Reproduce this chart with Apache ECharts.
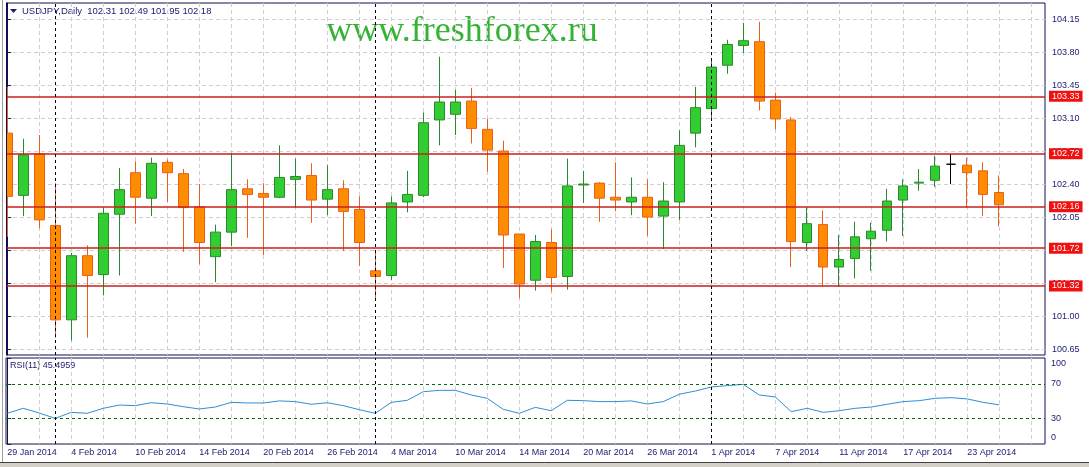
<!DOCTYPE html>
<html><head><meta charset="utf-8">
<script src="https://cdn.jsdelivr.net/npm/echarts@6/dist/echarts.min.js"></script>
<style>html,body{margin:0;padding:0;background:#fff;}#c{width:1089px;height:467px;}</style>
</head><body><div id="c"></div>
<script>
const dates = ['29 Jan 2014','30 Jan 2014','31 Jan 2014',
 '3 Feb 2014','4 Feb 2014','5 Feb 2014','6 Feb 2014','7 Feb 2014','10 Feb 2014','11 Feb 2014','12 Feb 2014','13 Feb 2014','14 Feb 2014',
 '17 Feb 2014','18 Feb 2014','19 Feb 2014','20 Feb 2014','21 Feb 2014','24 Feb 2014','25 Feb 2014','26 Feb 2014','27 Feb 2014','28 Feb 2014',
 '3 Mar 2014','4 Mar 2014','5 Mar 2014','6 Mar 2014','7 Mar 2014','10 Mar 2014','11 Mar 2014','12 Mar 2014','13 Mar 2014','14 Mar 2014',
 '17 Mar 2014','18 Mar 2014','19 Mar 2014','20 Mar 2014','21 Mar 2014','24 Mar 2014','25 Mar 2014','26 Mar 2014','27 Mar 2014','28 Mar 2014','31 Mar 2014',
 '1 Apr 2014','2 Apr 2014','3 Apr 2014','4 Apr 2014','7 Apr 2014','8 Apr 2014','9 Apr 2014','10 Apr 2014','11 Apr 2014',
 '14 Apr 2014','15 Apr 2014','16 Apr 2014','17 Apr 2014','18 Apr 2014','21 Apr 2014','22 Apr 2014','23 Apr 2014','24 Apr 2014','25 Apr 2014'];
const open = [102.94,102.28,102.72,101.96,100.96,101.64,101.44,102.08,102.52,102.25,
 102.63,102.51,102.16,101.63,101.89,102.35,102.30,102.26,102.45,102.49,
 102.24,102.35,102.13,101.48,101.43,102.21,102.28,103.08,103.14,103.28,
 102.98,102.75,101.87,101.38,101.78,101.42,102.39,102.41,102.26,102.21,
 102.26,102.06,102.21,102.94,103.20,103.66,103.87,103.91,103.29,103.08,
 101.78,101.97,101.52,101.61,101.82,101.91,102.23,102.41,102.44,102.61,
 102.60,102.54,102.31];
const high = [103.43,102.88,102.92,102.41,101.67,101.75,102.15,102.57,102.64,102.68,
 102.66,102.56,102.40,101.97,102.73,102.45,102.41,102.81,102.67,102.62,
 102.60,102.44,102.27,101.67,102.27,102.54,103.16,103.75,103.40,103.42,
 103.09,102.86,101.87,101.86,101.92,102.67,102.54,102.42,102.63,102.47,
 102.45,102.42,102.97,103.43,103.71,103.93,104.11,104.12,103.37,103.11,
 102.15,102.12,101.86,102.00,101.99,102.35,102.45,102.56,102.70,102.72,
 102.68,102.63,102.49];
const low = [101.84,102.06,101.93,100.77,100.74,100.77,101.22,101.43,101.98,102.06,
 102.21,101.68,101.55,101.36,101.74,101.83,101.65,102.25,102.15,101.99,
 102.07,101.69,101.53,101.17,101.38,102.10,102.26,102.81,102.92,102.83,
 102.53,101.51,101.19,101.27,101.26,101.28,102.20,102.00,102.11,102.07,
 101.85,101.71,102.02,102.79,103.08,103.57,103.79,103.18,102.98,101.52,
 101.69,101.31,101.31,101.40,101.48,101.79,101.85,102.33,102.37,102.40,
 102.15,102.06,101.95];
const close = [102.27,102.71,102.02,100.96,101.64,101.43,102.09,102.34,102.26,102.62,
 102.52,102.15,101.78,101.89,102.34,102.29,102.26,102.47,102.48,102.23,
 102.34,102.11,101.78,101.42,102.20,102.29,103.05,103.27,103.27,102.99,
 102.76,101.86,101.34,101.79,101.41,102.38,102.40,102.25,102.23,102.26,
 102.05,102.22,102.81,103.21,103.64,103.88,103.92,103.28,103.09,101.79,
 101.98,101.52,101.60,101.84,101.90,102.22,102.38,102.42,102.59,102.61,
 102.52,102.29,102.18];
const rsi = [35.7,41.5,36.0,29.8,36.8,35.7,41.5,45.3,44.6,48.0,
 46.5,43.4,40.7,43.0,48.4,47.7,47.7,50.1,49.3,46.2,
 48.0,44.6,39.9,35.7,48.4,50.8,60.8,62.4,62.4,57.0,
 53.1,40.3,35.7,42.6,38.7,50.8,50.4,49.3,49.3,50.1,
 46.5,49.3,57.8,61.6,66.3,67.9,69.4,57.0,54.7,37.6,
 41.5,36.8,38.7,41.5,43.0,46.2,49.3,50.4,53.1,53.9,
 52.4,48.4,45.5];
const priceTicks = [100.65,101.00,101.35,101.70,102.05,102.40,102.75,103.10,103.45,103.80,104.15];
const rsiTicks = [0,30,70,100];
const rsiLevels = [70,30];
const levels = [103.33,102.72,102.16,101.72,101.32];
const bid = 102.18;
const monthStarts = [3,23,44];
const dojiIndex = 59;
const labelIdx = [0,4,8,12,16,20,24,28,32,36,40,44,48,52,56,60];
const gridIdx = [2,4,6,8,10,12,14,16,18,20,22,24,26,28,30,32,34,36,38,40,42,44,46,48,50,52,54,56,58,60,62,64];
const headerText = 'USDJPY,Daily  102.31 102.49 101.95 102.18';
const rsiText = 'RSI(11) 45.4959';
const titleText = 'www.freshforex.ru';

const FONT = '"Liberation Sans", Arial, sans-serif';
const NAVY = '#1b1b70';
const GRIDC = '#cfcfcf';
const XMIN = -0.08, XMAX = 64.86;

const candles = dates.map((d, i) => {
  const item = { value: [i, open[i], close[i], low[i], high[i]] };
  if (i === dojiIndex) item.itemStyle = { color: '#000', color0: '#000', borderColor: '#000', borderColor0: '#000' };
  return item;
});

const priceLabel = (v, bg) => ({
  show: true, position: 'end', distance: 4, formatter: v.toFixed(2),
  color: '#fff', backgroundColor: bg, fontSize: 9, fontFamily: FONT,
  padding: [1, 3, 0, 3], lineHeight: 10
});

const mainMarks = [{ yAxis: bid, lineStyle: { opacity: 0 }, label: priceLabel(bid, '#000048') }]
  .concat(levels.map(v => ({ yAxis: v, lineStyle: { color: '#C8201E', width: 1.5, type: 'solid' }, label: priceLabel(v, '#F01010') })))
  .concat(monthStarts.map(i => ({ xAxis: i, lineStyle: { color: '#000020', width: 1, type: [3, 3] }, label: { show: false } })));

const rsiMarks = rsiLevels.map(v => ({ yAxis: v, lineStyle: { color: '#0A6A0A', width: 1, type: [3, 3] }, label: { show: false } }))
  .concat(monthStarts.map(i => ({ xAxis: i, lineStyle: { color: '#000020', width: 1, type: [3, 3] }, label: { show: false } })));

const chart = echarts.init(document.getElementById('c'), null, { renderer: 'canvas' });
chart.setOption({
  animation: false,
  backgroundColor: '#fff',
  grid: [
    { left: 6, right: 44, top: 3, height: 352, show: true, borderColor: '#101050', borderWidth: 1 },
    { left: 6, right: 44, top: 358, height: 86, show: true, borderColor: '#101050', borderWidth: 1 }
  ],
  xAxis: [
    { gridIndex: 0, type: 'value', min: XMIN, max: XMAX,
      axisLine: { show: false }, axisTick: { show: false, customValues: gridIdx }, axisLabel: { show: false },
      splitLine: { show: true, lineStyle: { color: GRIDC, type: [4, 3] } } },
    { gridIndex: 1, type: 'value', min: XMIN, max: XMAX,
      axisLine: { show: false }, axisTick: { show: false, customValues: gridIdx },
      axisLabel: { show: true, customValues: labelIdx, formatter: v => dates[Math.round(v)] || '', align: 'left',
        margin: 4, color: NAVY, fontSize: 9, fontFamily: FONT },
      splitLine: { show: true, lineStyle: { color: GRIDC, type: [4, 3] } } }
  ],
  yAxis: [
    { gridIndex: 0, type: 'value', position: 'right', min: 100.587, max: 104.32,
      axisLine: { show: true, lineStyle: { color: '#101050' } },
      axisTick: { show: true, length: 4, customValues: priceTicks, lineStyle: { color: NAVY } },
      axisLabel: { customValues: priceTicks, formatter: v => v.toFixed(2), color: NAVY, fontSize: 9, fontFamily: FONT, margin: 7 },
      splitLine: { show: true, lineStyle: { color: GRIDC, type: [4, 3] } } },
    { gridIndex: 1, type: 'value', position: 'right', min: 0, max: 100,
      axisLine: { show: true, lineStyle: { color: '#101050' } },
      axisTick: { show: true, length: 4, customValues: rsiTicks, lineStyle: { color: NAVY } },
      axisLabel: { customValues: rsiTicks, color: NAVY, fontSize: 9, fontFamily: FONT, margin: 6,
        showMinLabel: true, showMaxLabel: true, hideOverlap: false,
        formatter: v => v === 100 ? '{top|100}' : (v === 0 ? '{bot|0}' : String(v)),
        rich: { top: { fontSize: 9, fontFamily: FONT, color: NAVY, padding: [12, 0, 0, 0] },
                bot: { fontSize: 9, fontFamily: FONT, color: NAVY, padding: [0, 0, 12, 0] } } },
      splitLine: { show: false } }
  ],
  series: [
    { type: 'candlestick', xAxisIndex: 0, yAxisIndex: 0, encode: { x: 0, y: [1, 2, 3, 4] },
      data: candles, barWidth: 10, clip: true,
      itemStyle: { color: '#32CD32', color0: '#FF8C00', borderColor: '#2A8A2A', borderColor0: '#E8601C', borderWidth: 1 },
      markLine: { symbol: 'none', silent: true, animation: false, data: mainMarks } },
    { type: 'line', xAxisIndex: 1, yAxisIndex: 1, data: rsi.map((v, i) => [i, v]), clip: true,
      symbol: 'none', showSymbol: false, lineStyle: { color: '#2E8FD6', width: 1 },
      markLine: { symbol: 'none', silent: true, animation: false, data: rsiMarks } }
  ],
  graphic: [
    { type: 'rect', z: 100, shape: { x: 0, y: 3, width: 6.2, height: 352 }, style: { fill: '#fff', stroke: null } },
    { type: 'line', z: 101, shape: { x1: 6.5, y1: 3, x2: 6.5, y2: 355 }, style: { stroke: '#101050', lineWidth: 1 } },
    { type: 'rect', shape: { x: 0, y: 462, width: 1089, height: 5 }, style: { fill: '#D4D0C8', stroke: null } },
    { type: 'line', shape: { x1: 0, y1: 462.5, x2: 1089, y2: 462.5 }, style: { stroke: '#404040', lineWidth: 1 } },
    { type: 'line', z: 101, shape: { x1: 2.5, y1: 0, x2: 2.5, y2: 462 }, style: { stroke: '#A0A0A0', lineWidth: 1 } },
    { type: 'polygon', shape: { points: [[10, 9], [17, 9], [13.5, 13]] }, style: { fill: NAVY } },
    { type: 'text', x: 22, y: 11, style: { text: headerText, fill: NAVY, font: '9.5px ' + FONT, verticalAlign: 'middle' } },
    { type: 'text', x: 10, y: 366, style: { text: rsiText, fill: NAVY, font: '9px ' + FONT, verticalAlign: 'middle' } },
    { type: 'text', x: 462, y: 32, style: { text: titleText, fill: '#34B334', font: '36px "Liberation Serif", "Times New Roman", serif', align: 'center', verticalAlign: 'middle' } }
  ]
});
</script></body></html>
